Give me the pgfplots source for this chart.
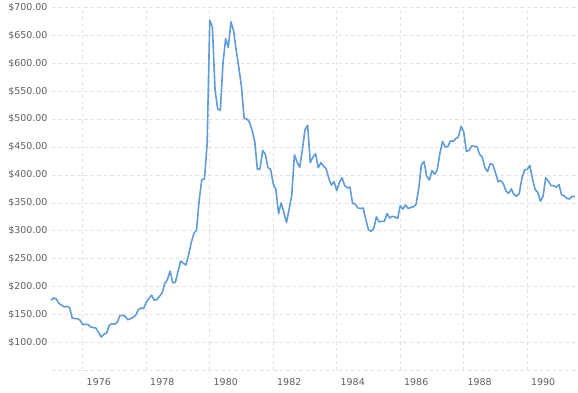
\documentclass[border=0pt]{standalone}
\usepackage{pgfplots}
\pgfplotsset{compat=1.18}
\usepackage{pgfplotstable}
\usepackage{fontspec}
\setmainfont{DejaVu Sans}
\definecolor{goldline}{RGB}{96,156,214}
\definecolor{gridc}{RGB}{226,226,226}
\definecolor{labc}{RGB}{95,95,95}
\pgfplotstableread{
yr mo p
1975 1 176
1975 2 180
1975 3 178
1975 4 170
1975 5 167
1975 6 164
1975 7 165
1975 8 163
1975 9 144
1975 10 143
1975 11 143
1975 12 140
1976 1 132
1976 2 133
1976 3 132
1976 4 128
1976 5 127
1976 6 126
1976 7 118
1976 8 110
1976 9 115
1976 10 117
1976 11 131
1976 12 134
1977 1 133
1977 2 136
1977 3 148
1977 4 149
1977 5 147
1977 6 141
1977 7 143
1977 8 145
1977 9 149
1977 10 159
1977 11 162
1977 12 161
1978 1 173
1978 2 179
1978 3 185
1978 4 176
1978 5 177
1978 6 183
1978 7 189
1978 8 206
1978 9 213
1978 10 228
1978 11 207
1978 12 208
1979 1 227
1979 2 246
1979 3 242
1979 4 239
1979 5 257
1979 6 279
1979 7 295
1979 8 302
1979 9 355
1979 10 392
1979 11 393
1979 12 455
1980 1 677
1980 2 664
1980 3 552
1980 4 518
1980 5 516
1980 6 600
1980 7 644
1980 8 628
1980 9 674
1980 10 658
1980 11 623
1980 12 592
1981 1 557
1981 2 501
1981 3 500
1981 4 495
1981 5 480
1981 6 460
1981 7 410
1981 8 411
1981 9 444
1981 10 437
1981 11 413
1981 12 410
1982 1 384
1982 2 374
1982 3 331
1982 4 350
1982 5 333
1982 6 315
1982 7 339
1982 8 364
1982 9 436
1982 10 423
1982 11 414
1982 12 445
1983 1 481
1983 2 489
1983 3 422
1983 4 432
1983 5 438
1983 6 413
1983 7 422
1983 8 416
1983 9 411
1983 10 394
1983 11 382
1983 12 388
1984 1 372
1984 2 387
1984 3 395
1984 4 381
1984 5 377
1984 6 378
1984 7 349
1984 8 348
1984 9 341
1984 10 340
1984 11 341
1984 12 320
1985 1 302
1985 2 299
1985 3 304
1985 4 325
1985 5 316
1985 6 317
1985 7 317
1985 8 331
1985 9 323
1985 10 326
1985 11 325
1985 12 322
1986 1 345
1986 2 339
1986 3 346
1986 4 340
1986 5 342
1986 6 343
1986 7 348
1986 8 376
1986 9 418
1986 10 424
1986 11 398
1986 12 391
1987 1 408
1987 2 401
1987 3 409
1987 4 439
1987 5 460
1987 6 450
1987 7 451
1987 8 461
1987 9 460
1987 10 465
1987 11 468
1987 12 487
1988 1 477
1988 2 442
1988 3 444
1988 4 452
1988 5 451
1988 6 451
1988 7 437
1988 8 432
1988 9 413
1988 10 406
1988 11 420
1988 12 419
1989 1 404
1989 2 388
1989 3 390
1989 4 384
1989 5 371
1989 6 367
1989 7 375
1989 8 365
1989 9 362
1989 10 367
1989 11 394
1989 12 409
1990 1 410
1990 2 417
1990 3 393
1990 4 374
1990 5 369
1990 6 353
1990 7 362
1990 8 395
1990 9 389
1990 10 381
1990 11 381
1990 12 378
1991 1 383
1991 2 364
1991 3 363
1991 4 358
1991 5 357
1991 6 362
1991 7 361
}\gold
\begin{document}
\begin{tikzpicture}
\begin{axis}[
  name=ax,
  scale only axis,
  width=526bp, height=363.3bp,
  xmin=1975.03, xmax=1991.6,
  ymin=50, ymax=700,
  axis line style={draw=none},
  major tick length=0pt,
  xtick={1976,1978,...,1990},
  xticklabels={1976,1978,1980,1982,1984,1986,1988,1990},
  ytick={50,100,...,700},
  yticklabels={,\$100.00,\$150.00,\$200.00,\$250.00,\$300.00,\$350.00,\$400.00,\$450.00,\$500.00,\$550.00,\$600.00,\$650.00,\$700.00},
  grid=major,
  major grid style={draw=gridc, line width=0.8bp, dash pattern=on 3.5bp off 3bp},
  tick label style={font=\fontsize{9.5}{11}\selectfont, text=labc},
  xticklabel style={xshift=16bp, yshift=-4.5bp},
  yticklabel style={xshift=-1bp},
  clip=false,
]
\addplot[goldline, line width=1.6bp, line join=round] table[x expr=\thisrow{yr}+(\thisrow{mo}-1)/12, y=p] {\gold};
\end{axis}
\pgfresetboundingbox
\path ([xshift=-52bp,yshift=-22.4bp]ax.south west) rectangle ([yshift=7.3bp]ax.north east);
\end{tikzpicture}
\end{document}
